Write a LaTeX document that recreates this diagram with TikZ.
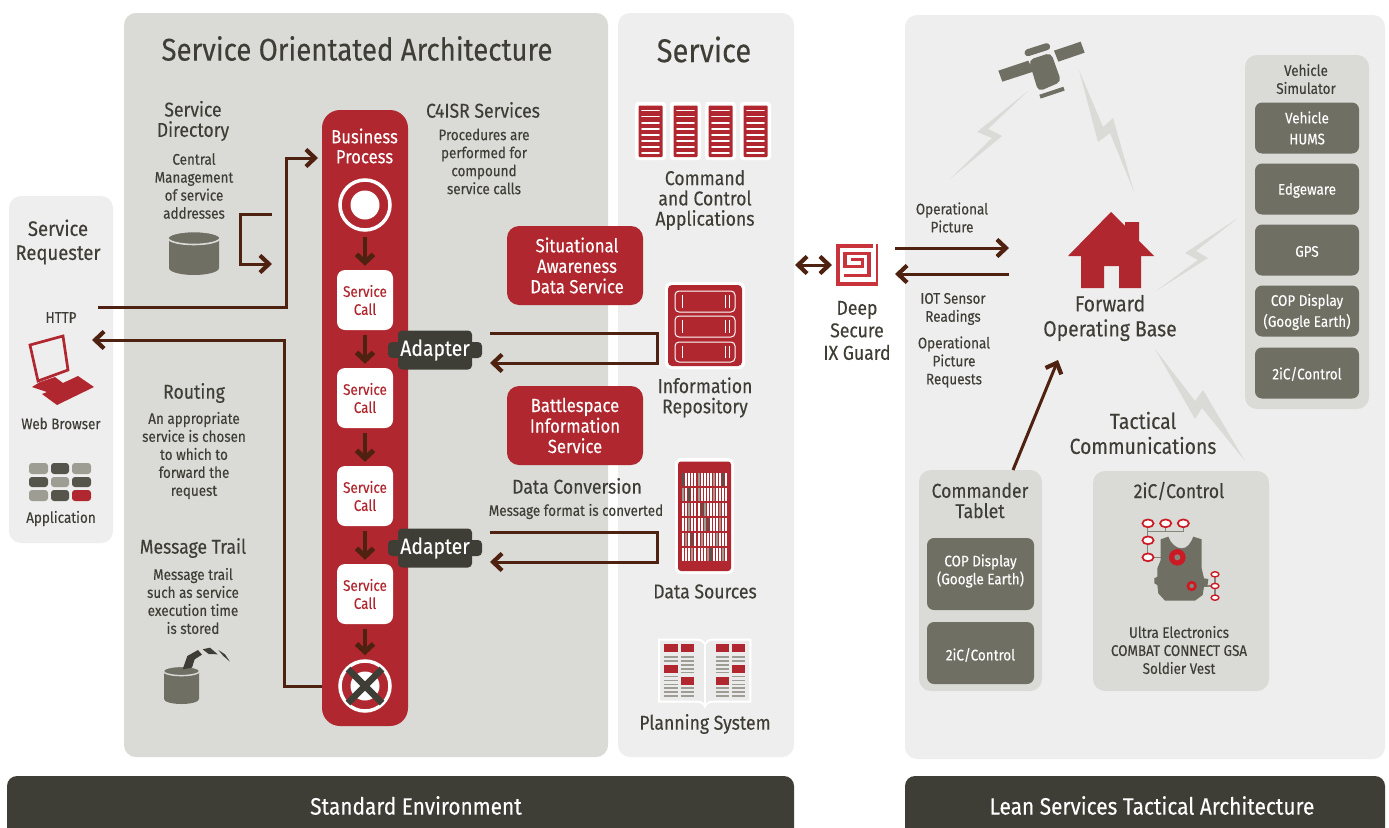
\documentclass[tikz,border=0pt]{standalone}
\usepackage{fontspec}
\setmainfont[FakeStretch=0.88,FakeBold=0.18]{Fira Sans}
\usetikzlibrary{arrows.meta}
\definecolor{ink}{HTML}{3F3E36}
\definecolor{wire}{HTML}{4F2110}
\definecolor{brick}{HTML}{B0272F}
\definecolor{pale}{HTML}{EEEEEE}
\definecolor{stone}{HTML}{DADBD7}
\definecolor{slate}{HTML}{6F6F64}
\definecolor{lightg}{HTML}{9E9D93}
\definecolor{darkg}{HTML}{56554B}
\definecolor{vestred}{HTML}{CC1A24}
\definecolor{guardred}{HTML}{C9343C}
\tikzset{
 lbl/.style={align=center,text=ink,inner sep=0pt,font=\fontsize{15.3}{18}\selectfont},
 head/.style={align=center,text=ink,inner sep=0pt,font=\fontsize{20}{20.3}\selectfont},
 panel/.style={rounded corners=12pt,fill=#1,draw=none},
 wirel/.style={draw=wire,line width=3pt,line join=miter},
 tipped/.style={wirel,-{Straight Barb[length=9pt,width=17pt,line width=4.2pt]}},
 bothtip/.style={wirel,{Straight Barb[length=9pt,width=17pt,line width=4.2pt]}-{Straight Barb[length=9pt,width=17pt,line width=4.2pt]}},
 callbox/.style={fill=white,rounded corners=8pt,minimum width=56pt,minimum height=60pt,inner sep=0pt},
 calltext/.style={text=brick,align=center,inner sep=0pt,font=\fontsize{15.3}{18}\selectfont},
 redbox/.style={fill=brick,rounded corners=12pt,minimum width=136pt,minimum height=79pt,text=white,align=center,inner sep=0pt,font=\fontsize{19}{20.5}\selectfont},
 adapterbox/.style={fill=ink,rounded corners=4pt,minimum width=74pt,minimum height=39pt,inner sep=0pt},
 adaptertext/.style={text=white,inner sep=0pt,font=\fontsize{22}{24}\selectfont},
 greybox/.style={fill=slate,rounded corners=7pt,inner sep=0pt,minimum width=104pt,minimum height=51pt},
 greytext/.style={text=white,align=center,inner sep=0pt,font=\fontsize{15.3}{21}\selectfont},
 bolt/.style={fill=stone,draw=none},
 shaft/.style={draw=wire,line width=3.4pt,shorten >=4pt,-{Straight Barb[length=8pt,width=17pt,line width=5pt]}},
 bookline/.style={draw=lightg,line width=1.1pt},
}
\begin{document}
\begin{tikzpicture}[x=1pt,y=-1pt]
\useasboundingbox (0,0) rectangle (1389,827);
\fill[white] (0,0) rectangle (1389,827);
% panels
\fill[panel=pale] (9,196) rectangle (113,543);
\fill[panel=stone] (124,13) rectangle (608,757);
\fill[panel=pale] (618,13) rectangle (794,757);
\fill[panel=pale] (905,15) rectangle (1385,759);
\fill[panel=stone] (1245,55) rectangle (1369,409);
\fill[panel=stone] (919,470) rectangle (1042,691);
\fill[panel=stone] (1093,471) rectangle (1269,691);
% footers
\fill[ink,rounded corners=10pt] (7,776) rectangle (794,840);
\fill[ink,rounded corners=10pt] (905,776) rectangle (1385,840);
\node[text=white,font=\fontsize{23.7}{26}\selectfont,inner sep=0pt] (envstd) at (416,805.5) {Standard Environment};
\node[text=white,font=\fontsize{23.7}{26}\selectfont,inner sep=0pt] (envlean) at (1152,805.5) {Lean Services Tactical Architecture};
% titles
\node[text=ink,font=\fontsize{31.4}{36}\selectfont,inner sep=0pt] (titlesoa) at (357,48.5) {Service Orientated Architecture};
\node[text=ink,font=\fontsize{33}{36}\selectfont,inner sep=0pt] (titlesvc) at (704,49.5) {Service};
% requester
\node[head,font=\fontsize{21}{24}\selectfont] (req) at (58,242) {Service\\Requester};
\node[lbl] (http) at (61,317.5) {HTTP};
\coordinate (httpout) at (98,307);
\coordinate (httpback) at (92,340);
% laptop
\draw[brick,line width=2.7pt,fill=pale] (30,345)--(63,336)--(68,370)--(38,381)--cycle;
\fill[brick] (40,382)--(55,377)--(63,383)--(78,376)--(94,387)--(57,405)--(42,394)--(47,392)--(32,387)--cycle;
\node[lbl] (webb) at (61,423.5) {Web Browser};
% app grid
\foreach \xa/\xb/\ya/\yb/\cc in {29/48/463/474/lightg,51/69/463/474/darkg,72/91/463/474/lightg,29/48/477/487/darkg,51/69/477/487/lightg,72/91/477/487/darkg,29/48/490/501/lightg,51/69/490/501/darkg,72/91/490/501/brick}
 \fill[\cc,rounded corners=3pt] (\xa,\ya) rectangle (\xb,\yb);
\node[lbl] (appl) at (61,518.5) {Application};
% SOA text
\node[head] (dirh) at (193,121) {Service\\Directory};
\node[lbl] (dirb) at (194,186) {Central\\Management\\of service\\addresses};
\node[head] (routeh) at (194,393) {Routing};
\node[lbl] (routeb) at (194,455.5) {An appropriate\\service is chosen\\to which to\\forward the\\request};
\node[head] (trailh) at (193,548) {Message Trail};
\node[lbl] (trailb) at (193,601) {Message trail\\such as service\\execution time\\is stored};
\node[head] (c4h) at (483,110) {C4ISR Services};
\node[lbl] (c4b) at (484,161.5) {Procedures are\\performed for\\compound\\service calls};
\node[head] (dch) at (577,486) {Data Conversion};
\node[lbl] (dcb) at (576,511.5) {Message format is converted};
% DB directory
\fill[slate] (169,240) arc[start angle=180,end angle=360,x radius=25,y radius=5] -- (219,268) arc[start angle=0,end angle=180,x radius=25,y radius=7] -- cycle;
\draw[stone,line width=1.6pt,fill=slate] (194,238) ellipse[x radius=26,y radius=6.5];
% DB trail
\fill[slate] (164,672) arc[start angle=180,end angle=360,x radius=17.5,y radius=4] -- (199,699) arc[start angle=0,end angle=180,x radius=17.5,y radius=5] -- cycle;
\draw[stone,line width=1.4pt,fill=slate] (181.5,671) ellipse[x radius=18.2,y radius=4.6];
\begin{scope}[shift={(130,520)},x=.3333pt,y=-.3333pt]
\fill[ink] (158,448)--(172,408)--(204,390)--(216,404)--(194,418)--(186,443)--cycle;
\fill[ink] (218,388)--(240,383)--(263,403)--(236,402)--cycle;
\fill[ink] (265,390)--(285,403)--(300,425)--(280,408)--cycle;
\end{scope}
% business process column
\fill[brick,rounded corners=18pt] (322,110) rectangle (408,726);
\node[text=white,align=center,inner sep=0pt,font=\fontsize{19}{20}\selectfont] (bp) at (364.5,146) {Business\\Process};
\node[circle,draw=white,line width=3.5pt,fill=brick,minimum size=50pt,inner sep=0pt] (startc) at (365,205) {};
\fill[white] (startc.center) circle[radius=14.5];
\node[callbox] (sc1) at (365,300) {};
\node[callbox] (sc2) at (365,398) {};
\node[callbox] (sc3) at (365,496) {};
\node[callbox] (sc4) at (365,594) {};
\foreach \i in {1,...,4} \node[calltext] (sct\i) at (sc\i) {Service\\Call};
\node[circle,draw=white,line width=3.5pt,fill=brick,minimum size=50pt,inner sep=0pt] (endc) at (365,686) {};
\fill[white] (endc.center) circle[radius=14.5];
\draw[ink,line width=6.5pt] (348,669)--(382,703) (382,669)--(348,703);
\draw[shaft] (startc.south)++(0,5) -- (sc1.north);
\draw[shaft] (sc1) ++(0,35) -- (sc2.north);
\draw[shaft] (sc2) ++(0,35) -- (sc3.north);
\draw[shaft] (sc3) ++(0,35) -- (sc4.north);
\draw[shaft] (sc4) ++(0,35) -- (endc.north);
% adapters
\foreach \yy/\nm in {350/adA,548/adB}{
 \fill[ink,rounded corners=4pt] (388,\yy-8) rectangle (482,\yy+8);
 \node[adapterbox] (\nm) at (435,\yy) {};
 \node[adaptertext] (\nm t) at (\nm) {Adapter};
}
% red boxes
\node[redbox] (sa) at (575,265.5) {\hspace*{4pt}Situational\\\hspace*{4pt}Awareness\\\hspace*{4pt}Data Service};
\node[redbox] (bi) at (575,425.5) {Battlespace\\Information\\Service};
% wires
\coordinate (procin) at (318,158);
\coordinate (endout) at (322,686);
\coordinate (dirA) at (272,214);
\coordinate (dirB) at (272,264);
\coordinate (a1o) at (490,333);
\coordinate (a1i) at (490,363);
\coordinate (a2o) at (490,532);
\coordinate (a2i) at (490,562);
\coordinate (ra) at (657,333);
\coordinate (rb) at (657,363);
\coordinate (rc) at (657,532);
\coordinate (rd) at (657,562);
\draw[tipped] (httpout) -| (286,158) -- (procin);
\draw[tipped] (endout) -- (284,686) |- (httpback);
\draw[tipped] (dirA) -- (240,214) |- (dirB);
\draw[tipped] (a1o) -- (ra) -- (rb) -- (a1i);
\draw[tipped] (a2o) -- (rc) -- (rd) -- (a2i);
% command and control
\foreach \xx in {635,670,705,740}{
 \fill[white,rounded corners=3pt] (\xx,102) rectangle (\xx+31,160);
 \fill[brick,rounded corners=1pt] (\xx+3.5,105.5) rectangle (\xx+27.5,157);
 \foreach \yy in {110.5,116.6,122.7,128.8,134.9,141,147.1,153.2}
  \draw[white,line width=1.7pt,line cap=round] (\xx+7,\yy) -- (\xx+24,\yy);
}
\node[head] (cca) at (705,200) {Command\\and Control\\Applications};
% repository
\fill[white,rounded corners=6pt] (665,282) rectangle (745,369);
\fill[brick,rounded corners=4pt] (668,285) rectangle (742,366);
\foreach \ya/\yb in {291/312,316/337,342/362}{
 \draw[white,line width=1pt,rounded corners=4pt] (675,\ya) rectangle (735,\yb);
 \draw[white,line width=1pt] (682,\ya+4) -- (682,\yb-4) (725,\ya+4) -- (725,\yb-4) (729,\ya+4) -- (729,\yb-4);
}
\node[head] (repo) at (705,397.5) {Information\\Repository};
% data sources
\fill[white,rounded corners=6pt] (675,458) rectangle (734,574);
\fill[brick,rounded corners=3pt] (678,461.5) rectangle (731,571);
\foreach \yy/\skip in {473/0,488/5,503/2,518/7,533/1,548/3}{
 \foreach \ii in {0,...,14}{
  \pgfmathtruncatemacro{\kk}{mod(\ii*7+\skip*3,5)}
  \pgfmathtruncatemacro{\dk}{mod(\ii*3+\skip*4,13)}
  \ifnum\dk=0 \def\cc{darkg}\else\ifnum\kk<1 \def\cc{lightg}\else\def\cc{white}\fi\fi
  \fill[\cc] (682+\ii*3.1,\yy) rectangle ++(2,13.3);
 }
}
\node[head] (ds) at (705,591.5) {Data Sources};
% book
\begin{scope}[shift={(625,450)},x=.3333pt,y=-.3333pt]
\draw[white,line width=2pt,fill=black!8] (102,569)--(215,569) .. controls (228,569) and (236,574) .. (240,582) .. controls (244,574) and (252,569) .. (265,569)--(376,569)--(376,755)--(265,755) .. controls (252,755) and (244,760) .. (240,770) .. controls (236,760) and (228,755) .. (215,755)--(102,755)--cycle;
\draw[white,line width=2.4pt] (240,580)--(240,770);
\foreach \xa/\ya/\xb/\yb in {118/583/158/607,167/583/207/607,272/583/312/607,321/583/361/607,118/645/158/668,167/680/207/704,272/680/312/704,321/645/361/668}
 \fill[brick] (\xa,\ya) rectangle (\xb,\yb);
\foreach \yy in {621,633,680,691,703,714,726,738} \draw[bookline] (118,\yy)--(158,\yy);
\foreach \yy in {621,633,645,657,668,714,726,738} \draw[bookline] (167,\yy)--(207,\yy);
\foreach \yy in {621,633,645,657,668,714,726,738} \draw[bookline] (272,\yy)--(312,\yy);
\foreach \yy in {621,633,680,691,703,714,726,738} \draw[bookline] (321,\yy)--(361,\yy);
\end{scope}
\node[head] (plan) at (705,724) {Planning System};
% guard
\begin{scope}[shift={(825,235)},x=.3333pt,y=-.3333pt]
\fill[guardred] (33,27) rectangle (143,39);
\fill[guardred] (33,27) rectangle (45,152);
\fill[guardred] (33,141) rectangle (160,152);
\fill[guardred] (153,27) rectangle (160,152);
\draw[guardred,line width=3.6pt] (57,122)--(132,122)--(132,55)--(60,55)--(60,95)--(113,95)--(113,74)--(77,74);
\end{scope}
\node[lbl,font=\fontsize{20}{22.5}\selectfont] (guard) at (857,330.5) {Deep\\Secure\\IX Guard};
\coordinate (gl) at (795,265);
\coordinate (gr) at (832,265);
\draw[bothtip] (gl) -- (gr);
% operational
\node[lbl] (oppic) at (952,217.5) {Operational\\Picture};
\node[lbl] (iot) at (953,309) {IOT Sensor\\Readings};
\node[lbl] (opreq) at (954,362) {Operational\\Picture\\Requests};
\coordinate (opa) at (895,248);
\coordinate (opb) at (1009,248);
\coordinate (opc) at (1009,274);
\coordinate (opd) at (895,274);
\draw[tipped] (opa) -- (opb);
\draw[tipped] (opc) -- (opd);
% bolts
\fill[bolt] (1028,91)--(977,132)--(992,138)--(950,179)--(1002,136)--(988,129)--cycle;
\fill[bolt] (1079,70)--(1098,142)--(1110,133)--(1134,192)--(1113,118)--(1103,127)--cycle;
\fill[bolt] (1238,218)--(1185,253)--(1198,260)--(1156,291)--(1208,258)--(1196,251)--cycle;
\fill[bolt] (1155,349)--(1195,419)--(1202,408)--(1245,461)--(1203,390)--(1195,401)--cycle;
% satellite
\begin{scope}[shift={(950,30)},x=.3333pt,y=-.3333pt]
\fill[slate] (145,122)--(235,92)--(250,125)--(157,155)--cycle;
\fill[slate] (312,62)--(392,35)--(404,68)--(325,95)--cycle;
\fill[slate,rounded corners=5pt] (236,90)--(303,68)--(334,155)--(265,185)--cycle;
\draw[slate,line width=7pt,line cap=round] (234,68)--(290,50);
\draw[slate,line width=4pt] (270,200)--(342,176);
\end{scope}
% house
\fill[brick] (1111,212)--(1125,226)--(1125,222)--(1139,222)--(1139,241)--(1154,256)--(1141,256)--(1141,288)--(1119,288)--(1119,266)--(1104,266)--(1104,288)--(1081,288)--(1081,256)--(1068,256)--cycle;
\node[lbl,font=\fontsize{22}{25}\selectfont] (fob) at (1110,318) {Forward\\Operating Base};
% vehicle simulator
\node[lbl] (vsim) at (1306,79) {Vehicle\\Simulator};
\node[greybox] (hums) at (1307,128) {};
\node[greybox] (edge) at (1307,189) {};
\node[greybox] (gps) at (1307,250) {};
\node[greybox] (copv) at (1307,311) {};
\node[greybox] (c2v) at (1307,373) {};
\node[greytext] (humst) at ([yshift=0pt]hums) {Vehicle\\HUMS};
\node[greytext] (edget) at ([yshift=-1.5pt]edge) {Edgeware};
\node[greytext] (gpst) at ([yshift=-1.5pt]gps) {GPS};
\node[greytext] (copvt) at ([yshift=-1pt]copv) {COP Display\\(Google Earth)};
\node[greytext] (c2vt) at ([yshift=-1pt]c2v) {2iC/Control};
\node[head,font=\fontsize{22}{25}\selectfont] (tc) at (1143,433) {Tactical\\Communications};
% commander tablet
\node[head] (tab) at (980,500.5) {Commander\\Tablet};
\node[greybox,minimum width=107pt,minimum height=72pt] (copt) at (980.5,574) {};
\node[greybox,minimum width=107pt,minimum height=62pt] (c2t) at (980.5,653) {};
\node[greytext,font=\fontsize{15.3}{18}\selectfont] (coptt) at ([yshift=3pt]copt) {COP Display\\(Google Earth)};
\node[greytext] (c2tt) at ([yshift=-2pt]c2t) {2iC/Control};
\coordinate (tabtop) at (1013,470);
\coordinate (fobin) at (1058,360);
\draw[tipped] (tabtop) -- (fobin);
% vest
\node[head] (vesth) at (1179,491) {2iC/Control};
\begin{scope}[shift={(1100,480)},x=.3333pt,y=-.3333pt]
\draw[slate!85!white,line width=1.2pt] (143,155)--(250,155) (197,130)--(197,155) (250,130)--(250,155) (143,130)--(143,232)--(232,232) (345,283)--(345,353) (275,318)--(345,318);
\fill[slate] (182,178)--(205,170) .. controls (212,190) and (228,205) .. (245,205) .. controls (262,205) and (272,190) .. (280,170)--(305,178)--(305,265)--(312,295)--(325,297)--(322,320)--(312,320)--(308,345)--(285,362)--(195,362)--(175,340)--(172,315)--(163,310)--(163,295)--(172,290)--(172,265)--(182,240)--cycle;
\foreach \xx/\yy in {144/130,197/130,250/130,144/181,144/232}
 \draw[vestred,line width=1.7pt,fill=white] (\xx,\yy) ellipse[x radius=5.6pt,y radius=3.9pt];
\foreach \xx/\yy in {345/283,345/318,345/353}
 \draw[vestred,line width=1.4pt,fill=white] (\xx,\yy) ellipse[x radius=3.9pt,y radius=2.6pt];
\fill[vestred] (232,232) circle[radius=8.3pt];
\fill[slate!85!white] (232,232) circle[radius=3pt];
\fill[vestred] (275,318) circle[radius=5.2pt];
\fill[slate!85!white] (275,318) circle[radius=2.2pt];
\end{scope}
\node[lbl] (ultra) at (1179,650) {Ultra Electronics\\COMBAT CONNECT GSA\\Soldier Vest};
\end{tikzpicture}
\end{document}
